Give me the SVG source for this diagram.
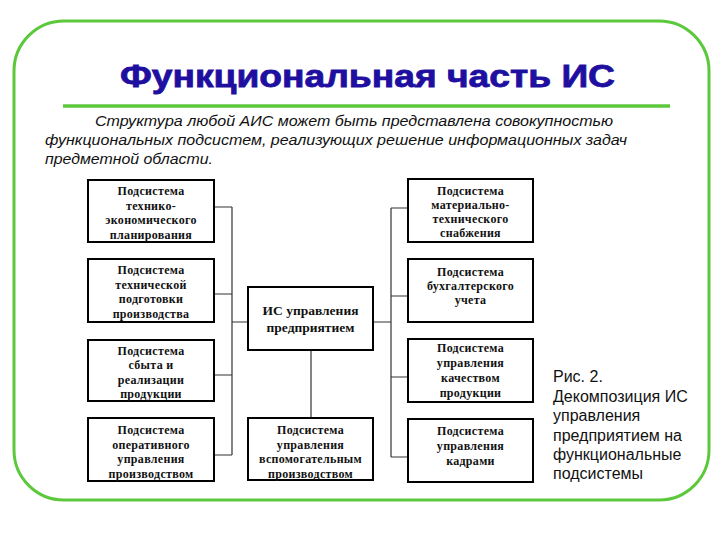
<svg xmlns="http://www.w3.org/2000/svg" width="720" height="540" viewBox="0 0 720 540">
<style>
.box{fill:#fff;stroke:#000;stroke-width:2}
.bt{font-family:"Liberation Serif","Times New Roman",serif;font-weight:bold;font-size:12px;fill:#111;text-anchor:middle;letter-spacing:0.3px}
.ct{font-family:"Liberation Serif","Times New Roman",serif;font-weight:bold;font-size:13.5px;fill:#111;text-anchor:middle}
.con{stroke:#333;stroke-width:1.2;fill:none}
.sub{font-family:"Liberation Sans",Arial,sans-serif;font-style:italic;font-size:15.5px;fill:#111}
.cap{font-family:"Liberation Sans",Arial,sans-serif;font-size:16px;fill:#111}
</style>
<rect x="0" y="0" width="720" height="540" fill="#fff"/>
<rect x="14" y="21" width="695" height="479" rx="50" ry="50" fill="none" stroke="#5cc83c" stroke-width="3"/>
<text x="120" y="87" font-family="'Liberation Sans',Arial,sans-serif" font-weight="bold" font-size="31" fill="#1f0fa0" stroke="#1f0fa0" stroke-width="0.8" textLength="495" lengthAdjust="spacingAndGlyphs">Функциональная часть ИС</text>
<line x1="63" y1="106" x2="670" y2="106" stroke="#5cc83c" stroke-width="3.5"/>
<text class="sub" x="95" y="126" textLength="518" lengthAdjust="spacingAndGlyphs">Структура любой АИС может быть представлена совокупностью</text>
<text class="sub" x="45" y="145" textLength="582" lengthAdjust="spacingAndGlyphs">функциональных подсистем, реализующих решение информационных задач</text>
<text class="sub" x="45" y="164" textLength="168" lengthAdjust="spacingAndGlyphs">предметной области.</text>
<g id="connectors">
<path class="con" d="M232,207 V455 M214,207 H232 M214,294 H232 M214,375 H232 M214,455 H232 M232,322 H248"/>
<path class="con" d="M391,208 V457 M391,208 H408 M391,296 H408 M391,377 H408 M391,457 H408 M373,322 H391"/>
<path class="con" d="M311,350 V418"/>
</g>
<g id="left1">
<rect class="box" x="88" y="180" width="126" height="62"/>
<text class="bt" x="151" y="195">Подсистема</text>
<text class="bt" x="151" y="209.5">технико-</text>
<text class="bt" x="151" y="224">экономического</text>
<text class="bt" x="151" y="238.5">планирования</text>
</g>
<g id="left2">
<rect class="box" x="88" y="259" width="126" height="63"/>
<text class="bt" x="151" y="274">Подсистема</text>
<text class="bt" x="151" y="288.5">технической</text>
<text class="bt" x="151" y="303">подготовки</text>
<text class="bt" x="151" y="317.5">производства</text>
</g>
<g id="left3">
<rect class="box" x="88" y="340" width="126" height="61"/>
<text class="bt" x="151" y="354.5">Подсистема</text>
<text class="bt" x="151" y="369">сбыта и</text>
<text class="bt" x="151" y="383.5">реализации</text>
<text class="bt" x="151" y="398">продукции</text>
</g>
<g id="left4">
<rect class="box" x="88" y="418" width="126" height="63"/>
<text class="bt" x="151" y="434">Подсистема</text>
<text class="bt" x="151" y="448.5">оперативного</text>
<text class="bt" x="151" y="463">управления</text>
<text class="bt" x="151" y="477.5">производством</text>
</g>
<g id="center">
<rect class="box" x="248" y="287" width="125" height="63"/>
<text class="ct" x="310.5" y="315">ИС управления</text>
<text class="ct" x="310.5" y="332">предприятием</text>
</g>
<g id="bottom">
<rect class="box" x="248" y="418" width="125" height="62"/>
<text class="bt" x="310.5" y="434">Подсистема</text>
<text class="bt" x="310.5" y="448.5">управления</text>
<text class="bt" x="310.5" y="463">вспомогательным</text>
<text class="bt" x="310.5" y="477.5">производством</text>
</g>
<g id="right1">
<rect class="box" x="408" y="179" width="125" height="63"/>
<text class="bt" x="470.5" y="195">Подсистема</text>
<text class="bt" x="470.5" y="208.5">материально-</text>
<text class="bt" x="470.5" y="222.5">технического</text>
<text class="bt" x="470.5" y="237">снабжения</text>
</g>
<g id="right2">
<rect class="box" x="408" y="259" width="125" height="63"/>
<text class="bt" x="470.5" y="276">Подсистема</text>
<text class="bt" x="470.5" y="290">бухгалтерского</text>
<text class="bt" x="470.5" y="304">учета</text>
</g>
<g id="right3">
<rect class="box" x="408" y="339" width="125" height="63"/>
<text class="bt" x="470.5" y="352">Подсистема</text>
<text class="bt" x="470.5" y="367">управления</text>
<text class="bt" x="470.5" y="382">качеством</text>
<text class="bt" x="470.5" y="396.5">продукции</text>
</g>
<g id="right4">
<rect class="box" x="408" y="419" width="125" height="63"/>
<text class="bt" x="470.5" y="434.5">Подсистема</text>
<text class="bt" x="470.5" y="450">управления</text>
<text class="bt" x="470.5" y="465">кадрами</text>
</g>
<g id="caption">
<text class="cap" x="553" y="382">Рис. 2.</text>
<text class="cap" x="553" y="402">Декомпозиция ИС</text>
<text class="cap" x="553" y="421">управления</text>
<text class="cap" x="553" y="440.5">предприятием на</text>
<text class="cap" x="553" y="459.5">функциональные</text>
<text class="cap" x="553" y="478.5">подсистемы</text>
</g>
</svg>
